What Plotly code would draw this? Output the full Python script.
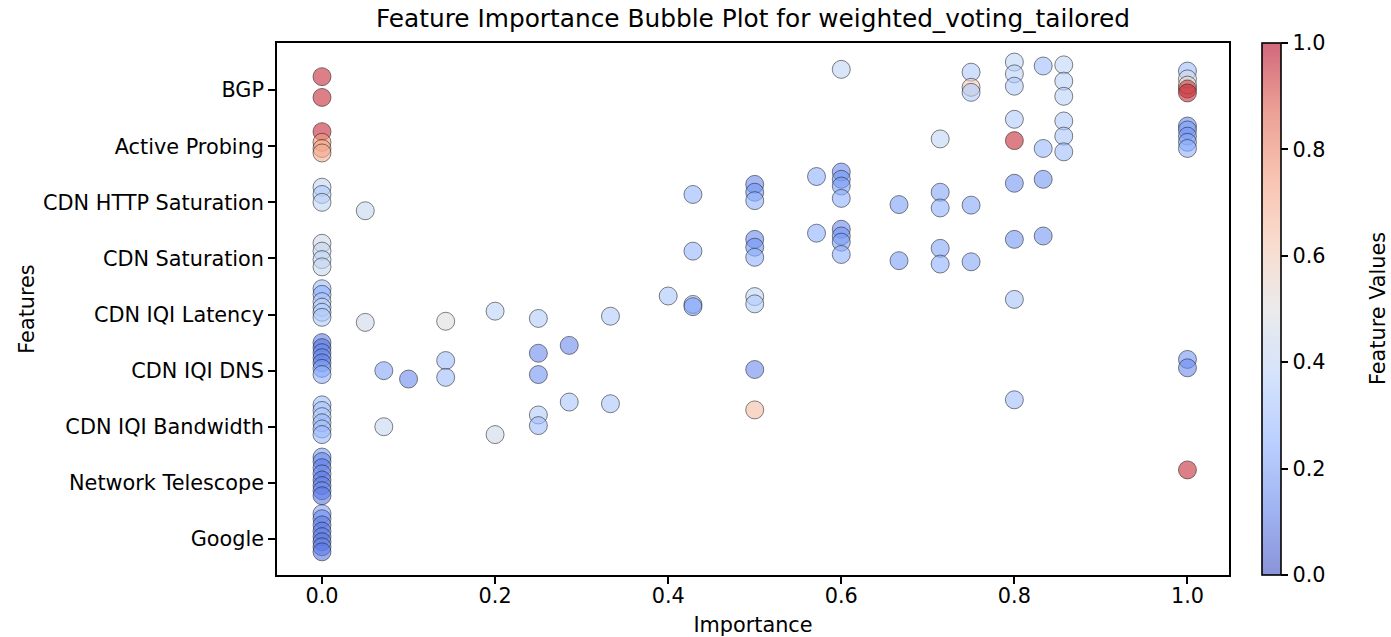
import plotly.graph_objects as go

# ---------------- data ----------------
feature_names = ["Google", "Network Telescope", "CDN IQI Bandwidth", "CDN IQI DNS",
                 "CDN IQI Latency", "CDN Saturation", "CDN HTTP Saturation",
                 "Active Probing", "BGP"]

# each point: feature, importance, vertical jitter (category units), feature value
bgp_imp   = [0, 0, 0.6, 0.75, 0.75, 0.75, 0.8, 0.8, 0.8, 0.8333, 0.8571, 0.8571, 0.8571, 1, 1, 1, 1, 1]
bgp_jit   = [0.24, -0.13, 0.37, 0.32, 0.05, -0.04, 0.5, 0.29, 0.07, 0.43, 0.45, 0.16, -0.11, 0.34, 0.2, 0.09, 0.02, -0.05]
bgp_val   = [0.95, 0.95, 0.4, 0.35, 0.6, 0.35, 0.4, 0.38, 0.35, 0.3, 0.4, 0.38, 0.38, 0.3, 0.45, 0.55, 0.92, 0.95]

ap_imp    = [0, 0, 0, 0, 0.7143, 0.8, 0.8, 0.8333, 0.8571, 0.8571, 0.8571, 1, 1, 1, 1, 1]
ap_jit    = [0.26, 0.07, -0.04, -0.12, 0.13, 0.48, 0.10, -0.04, 0.45, 0.18, -0.1, 0.36, 0.29, 0.18, 0.07, -0.04]
ap_val    = [0.95, 0.75, 0.72, 0.7, 0.4, 0.35, 0.95, 0.28, 0.35, 0.33, 0.3, 0.15, 0.2, 0.18, 0.22, 0.25]

http_imp  = [0, 0, 0, 0.05, 0.4286, 0.5, 0.5, 0.5, 0.5714, 0.6, 0.6, 0.6, 0.6, 0.6667, 0.7143, 0.7143, 0.75, 0.8, 0.8333]
http_jit  = [0.27, 0.14, 0.0, -0.15, 0.14, 0.32, 0.18, 0.03, 0.46, 0.54, 0.41, 0.29, 0.07, -0.04, 0.18, -0.1, -0.05, 0.34, 0.41]
http_val  = [0.4, 0.35, 0.4, 0.42, 0.27, 0.15, 0.18, 0.25, 0.25, 0.15, 0.18, 0.2, 0.25, 0.2, 0.22, 0.25, 0.22, 0.18, 0.18]

sat_imp   = [0, 0, 0, 0, 0.4286, 0.5, 0.5, 0.5, 0.5714, 0.6, 0.6, 0.6, 0.6, 0.6667, 0.7143, 0.7143, 0.75, 0.8, 0.8333]
sat_jit   = [0.27, 0.13, -0.02, -0.15, 0.13, 0.34, 0.2, 0.02, 0.45, 0.52, 0.4, 0.29, 0.07, -0.04, 0.18, -0.1, -0.06, 0.34, 0.4]
sat_val   = [0.45, 0.42, 0.4, 0.42, 0.27, 0.15, 0.18, 0.25, 0.25, 0.15, 0.18, 0.2, 0.25, 0.2, 0.22, 0.25, 0.22, 0.18, 0.18]

lat_imp   = [0, 0, 0, 0, 0, 0, 0.05, 0.1429, 0.2, 0.25, 0.3333, 0.4, 0.4286, 0.4286, 0.5, 0.5, 0.8]
lat_jit   = [0.46, 0.36, 0.23, 0.13, 0.04, -0.05, -0.14, -0.12, 0.06, -0.07, -0.03, 0.33, 0.18, 0.14, 0.32, 0.19, 0.27]
lat_val   = [0.3, 0.25, 0.35, 0.38, 0.35, 0.35, 0.45, 0.5, 0.38, 0.35, 0.35, 0.33, 0.3, 0.2, 0.4, 0.35, 0.32]

dns_imp   = [0, 0, 0, 0, 0, 0, 0, 0.0714, 0.1, 0.1429, 0.1429, 0.25, 0.25, 0.2857, 0.5, 1, 1]
dns_jit   = [0.5, 0.41, 0.32, 0.23, 0.14, 0.04, -0.07, 0.0, -0.15, 0.18, -0.12, 0.31, -0.07, 0.45, 0.02, 0.2, 0.05]
dns_val   = [0.12, 0.1, 0.15, 0.15, 0.12, 0.2, 0.25, 0.22, 0.15, 0.3, 0.3, 0.15, 0.17, 0.15, 0.15, 0.18, 0.15]

bw_imp    = [0, 0, 0, 0, 0, 0, 0.0714, 0.2, 0.25, 0.25, 0.2857, 0.3333, 0.5, 0.8]
bw_jit    = [0.39, 0.29, 0.18, 0.07, -0.04, -0.14, 0.0, -0.14, 0.21, 0.02, 0.44, 0.41, 0.3, 0.48]
bw_val    = [0.3, 0.33, 0.35, 0.28, 0.3, 0.28, 0.42, 0.45, 0.35, 0.3, 0.33, 0.33, 0.65, 0.3]

nt_imp    = [0, 0, 0, 0, 0, 0, 0, 0, 1]
nt_jit    = [0.46, 0.38, 0.27, 0.16, 0.05, -0.05, -0.14, -0.23, 0.23]
nt_val    = [0.2, 0.15, 0.12, 0.15, 0.1, 0.12, 0.15, 0.1, 0.95]

g_imp     = [0, 0, 0, 0, 0, 0, 0, 0]
g_jit     = [0.45, 0.36, 0.25, 0.14, 0.04, -0.05, -0.14, -0.23]
g_val     = [0.22, 0.15, 0.12, 0.1, 0.12, 0.1, 0.12, 0.1]

groups = [
    ("Google", g_imp, g_jit, g_val),
    ("Network Telescope", nt_imp, nt_jit, nt_val),
    ("CDN IQI Bandwidth", bw_imp, bw_jit, bw_val),
    ("CDN IQI DNS", dns_imp, dns_jit, dns_val),
    ("CDN IQI Latency", lat_imp, lat_jit, lat_val),
    ("CDN Saturation", sat_imp, sat_jit, sat_val),
    ("CDN HTTP Saturation", http_imp, http_jit, http_val),
    ("Active Probing", ap_imp, ap_jit, ap_val),
    ("BGP", bgp_imp, bgp_jit, bgp_val),
]

x_ticks = [0.0, 0.2, 0.4, 0.6, 0.8, 1.0]
cbar_ticks = [0.0, 0.2, 0.4, 0.6, 0.8, 1.0]

# ---------------- build ----------------
xs, ys, cs = [], [], []
for name, imp, jit, val in groups:
    idx = feature_names.index(name)
    for a, j, v in zip(imp, jit, val):
        xs.append(a)
        ys.append(idx + j)
        cs.append(v)

alpha = 0.6
coolwarm = [
    (0.0, (59, 76, 192)), (0.125, (98, 130, 234)), (0.25, (141, 176, 254)),
    (0.375, (184, 208, 249)), (0.5, (221, 221, 221)), (0.625, (245, 196, 173)),
    (0.75, (244, 154, 123)), (0.875, (222, 96, 77)), (1.0, (180, 4, 38)),
]
colorscale = [[p, f"rgba({r},{g},{b},{alpha})"] for p, (r, g, b) in coolwarm]

FONT = "DejaVu Sans"
TICK = 20.8
LW = 1.6
W, H = 1391, 637
ML, MR, MT, MB = 277, 162, 43, 62
PW = W - ML - MR

fig = go.Figure()
fig.add_trace(go.Scatter(
    x=xs, y=ys, mode="markers",
    marker=dict(
        size=18, color=cs, colorscale=colorscale, cmin=0, cmax=1,
        line=dict(color="rgba(30,30,30,0.55)", width=1),
        colorbar=dict(
            x=(1262 - ML) / PW, xanchor="left", xref="paper", xpad=0,
            y=0, yanchor="bottom", len=1, lenmode="fraction", ypad=0,
            thickness=19, outlinewidth=LW, outlinecolor="black",
            tickvals=cbar_ticks, ticktext=[f"{t:.1f}" for t in cbar_ticks],
            ticks="outside", ticklen=7, tickwidth=LW, tickcolor="black",
            tickfont=dict(family=FONT, size=TICK, color="black"),
        ),
    ),
    showlegend=False,
))

fig.add_annotation(
    text="Feature Values", textangle=-90,
    x=(1378 - ML) / PW, xref="paper", xanchor="center",
    y=0.5, yref="paper", yanchor="middle", showarrow=False,
    font=dict(family=FONT, size=TICK, color="black"),
)

fig.update_layout(
    width=W, height=H,
    margin=dict(l=ML, r=MR, t=MT, b=MB, autoexpand=False),
    paper_bgcolor="white", plot_bgcolor="white",
    font=dict(family=FONT, color="black"),
    title=dict(text="Feature Importance Bubble Plot for weighted_voting_tailored",
               x=0.5, xref="paper", xanchor="center",
               y=1 - 18 / H, yref="container", yanchor="middle",
               font=dict(family=FONT, size=24.8, color="black")),
    xaxis=dict(
        range=[-0.052, 1.048], tickvals=x_ticks, ticktext=[f"{t:.1f}" for t in x_ticks],
        showgrid=False, zeroline=False, showline=True, linecolor="black", linewidth=LW,
        mirror=True, ticks="outside", ticklen=7, tickwidth=LW, tickcolor="black",
        tickfont=dict(family=FONT, size=TICK), automargin=False, ticklabelstandoff=-6,
        title=dict(text="Importance", font=dict(family=FONT, size=TICK), standoff=12),
    ),
    yaxis=dict(
        range=[-0.643, 8.84], tickvals=list(range(len(feature_names))), ticktext=feature_names,
        showgrid=False, zeroline=False, showline=True, linecolor="black", linewidth=LW,
        mirror=True, ticks="outside", ticklen=7, tickwidth=LW, tickcolor="black",
        tickfont=dict(family=FONT, size=TICK), automargin=False,
        title=dict(text="Features", font=dict(family=FONT, size=TICK), standoff=3),
    ),
)

fig.write_html("out.html")
